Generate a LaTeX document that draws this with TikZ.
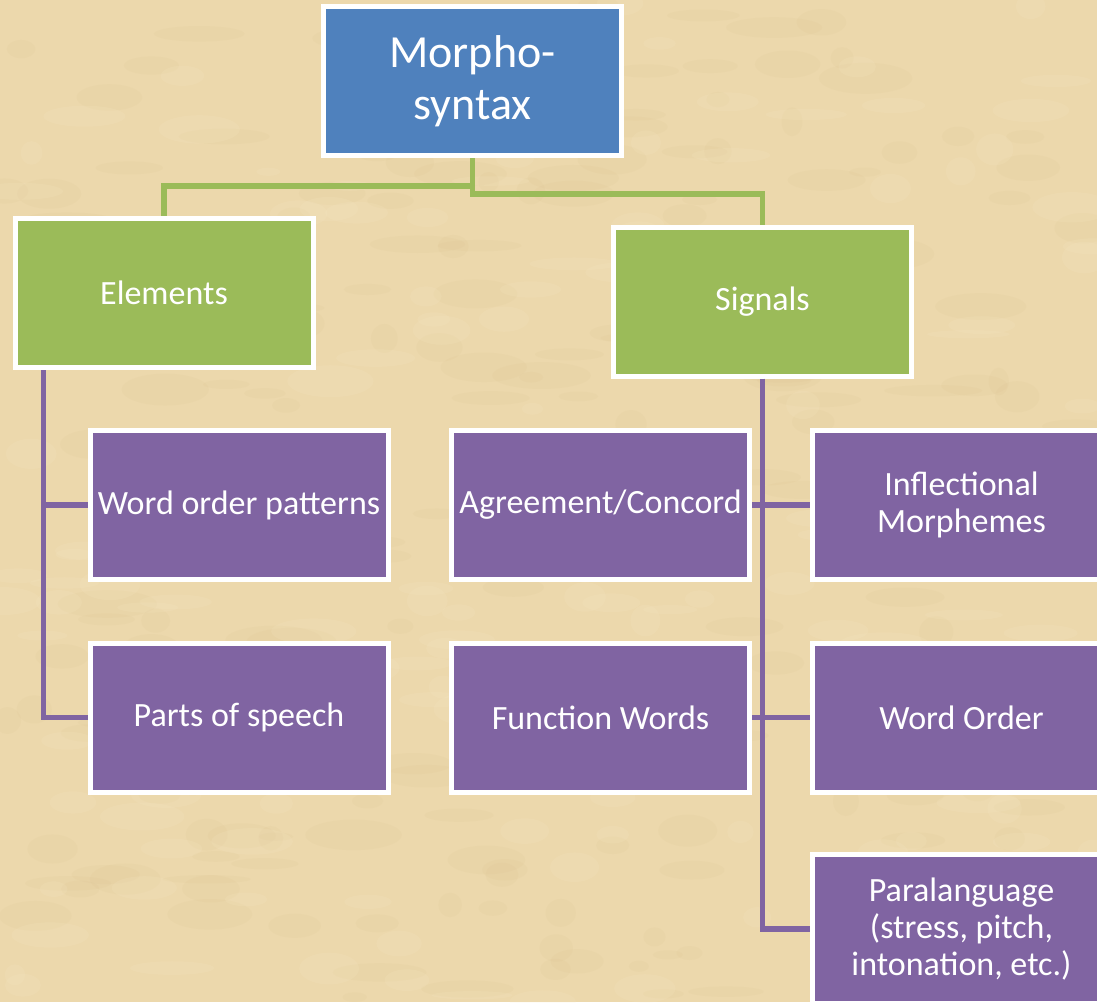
\documentclass[tikz,border=0pt]{standalone}
\usepackage{fontspec}
\setmainfont{Carlito}
\usetikzlibrary{calc}
\definecolor{bgtan}{RGB}{236,216,172}
\definecolor{bgdark}{RGB}{212,186,134}
\definecolor{bglight}{RGB}{248,234,200}
\definecolor{rootblue}{RGB}{79,129,189}
\definecolor{lvgreen}{RGB}{155,187,89}
\definecolor{leafpurple}{RGB}{128,100,162}
\tikzset{
  x=1pt, y=-1pt,
  box/.style={draw=white, line width=5pt, text=white, align=center,
    minimum width=298pt, minimum height=149pt, inner sep=0pt,
    font=\fontsize{34}{37}\selectfont},
  rootbox/.style={box, fill=rootblue, font=\fontsize{46}{52}\selectfont},
  greenbox/.style={box, fill=lvgreen},
  purplebox/.style={box, fill=leafpurple},
  gline/.style={draw=lvgreen, line width=5.5pt},
  pline/.style={draw=leafpurple, line width=5.5pt},
}
\begin{document}
\begin{tikzpicture}
\useasboundingbox (0,0) rectangle (1097,1002);
\begin{scope}
\clip (0,0) rectangle (1097,1002);
\fill[bgtan] (0,0) rectangle (1097,1002);
\pgfmathsetseed{7}
\foreach \i in {1,...,220}{
  \pgfmathsetmacro{\xx}{rnd*1097}
  \pgfmathsetmacro{\yy}{rnd*1002}
  \pgfmathsetmacro{\rx}{10+rnd*40}
  \pgfmathsetmacro{\ry}{4+rnd*12}
  \fill[bgdark, opacity=0.09] (\xx,\yy) ellipse ({\rx pt} and {\ry pt});
}
\foreach \i in {1,...,160}{
  \pgfmathsetmacro{\xx}{rnd*1097}
  \pgfmathsetmacro{\yy}{rnd*1002}
  \pgfmathsetmacro{\rx}{10+rnd*35}
  \pgfmathsetmacro{\ry}{4+rnd*12}
  \fill[bglight, opacity=0.15] (\xx,\yy) ellipse ({\rx pt} and {\ry pt});
}

\node[rootbox] (root) at (472.5,81) {Morpho-\\syntax};
\node[greenbox] (el) at (164,293) {Elements};
\node[greenbox] (sig) at (762.5,301.5) {Signals};
\node[purplebox] (wop) at (239,505) {Word order patterns};
\node[purplebox] (pos) at (239,717.5) {Parts of speech};
\node[purplebox] (agr) at (600.5,505) {Agreement/Concord};
\node[purplebox] (fw) at (600.5,717.5) {Function Words};
\node[purplebox] (infl) at (961.5,505) {Inflectional\\Morphemes};
\node[purplebox] (wo) at (961.5,717.5) {Word Order};
\node[purplebox] (para) at (961.5,929) {Paralanguage\\(stress, pitch,\\intonation, etc.)};

\draw[gline] (root.south) -- ++(0,28) -| (el.north);
\draw[gline] (root.south) -- ++(0,36) -| (sig.north);

\coordinate (elbus) at ($(el.south west)+(31,0)$);
\draw[pline] (elbus) |- (pos.west);
\draw[pline] (elbus) |- (wop.west);

\draw[pline] (sig.south) |- (para.west);
\draw[pline] (agr.east) -- (infl.west);
\draw[pline] (fw.east) -- (wo.west);
\end{scope}
\end{tikzpicture}
\end{document}
